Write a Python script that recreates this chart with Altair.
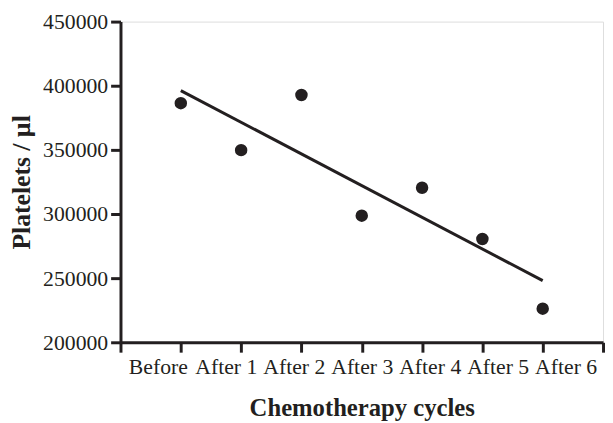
import altair as alt
import pandas as pd

cycles = ["Before", "After 1", "After 2", "After 3", "After 4", "After 5", "After 6"]
cycle_index = [1, 2, 3, 4, 5, 6, 7]
platelets = [386400, 349800, 392800, 298700, 320500, 280500, 226200]
y_ticks = [200000, 250000, 300000, 350000, 400000, 450000]
x_ticks = [0, 1, 2, 3, 4, 5, 6, 7, 8]

df = pd.DataFrame({"cycle": cycles, "idx": cycle_index, "platelets": platelets})

INK = "#231f20"
FONT = "Liberation Serif"

x_scale = alt.Scale(domain=[0, 8], nice=False, zero=False)
y_scale = alt.Scale(domain=[200000, 450000], nice=False, zero=False)

x_axis = alt.Axis(
    orient="bottom",
    values=x_ticks,
    labels=False,
    grid=False,
    tickSize=10,
    tickWidth=3,
    tickColor=INK,
    domainWidth=3,
    domainColor=INK,
    title="Chemotherapy cycles",
    titleFont=FONT,
    titleFontSize=25,
    titleFontWeight="bold",
    titleColor=INK,
    titlePadding=43,
)

y_axis = alt.Axis(
    values=y_ticks,
    format="d",
    grid=False,
    tickSize=10,
    tickWidth=3,
    tickColor=INK,
    domainWidth=3,
    domainColor=INK,
    labelFont=FONT,
    labelFontSize=22,
    labelColor=INK,
    labelPadding=3,
    title="Platelets / µl",
    titleFont=FONT,
    titleFontSize=26,
    titleFontWeight="bold",
    titleColor=INK,
    titlePadding=8,
)

base = alt.Chart(df)

points = base.mark_circle(size=160, color=INK, opacity=1).encode(
    x=alt.X("idx:Q", scale=x_scale, axis=x_axis),
    y=alt.Y("platelets:Q", scale=y_scale, axis=y_axis),
)

fit = (
    base.transform_regression("idx", "platelets", extent=[1, 7])
    .mark_line(color=INK, strokeWidth=3)
    .encode(
        x=alt.X("idx:Q", scale=x_scale, axis=x_axis),
        y=alt.Y("platelets:Q", scale=y_scale, axis=y_axis),
    )
)

main = alt.layer(fit, points)

label_row = base.mark_point(opacity=0).encode(
    x=alt.X(
        "cycle:N",
        sort=cycles,
        scale=alt.Scale(type="point", padding=0.55),
        axis=alt.Axis(
            orient="bottom",
            domain=False,
            ticks=False,
            tickSize=0,
            grid=False,
            labelAngle=0,
            labelFont=FONT,
            labelFontSize=22,
            labelColor=INK,
            labelPadding=15,
            title=None,
        ),
    )
)

chart = (
    alt.layer(main, label_row)
    .resolve_scale(x="independent")
    .properties(
        width=489,
        height=325,
        autosize=alt.AutoSizeParams(type="none"),
        padding={"left": 114, "top": 11, "right": 2, "bottom": 78},
    )
    .configure_view(strokeWidth=0)
    .configure(background="white")
)

chart.save("out.html", embed_options={"renderer": "svg", "actions": False})
